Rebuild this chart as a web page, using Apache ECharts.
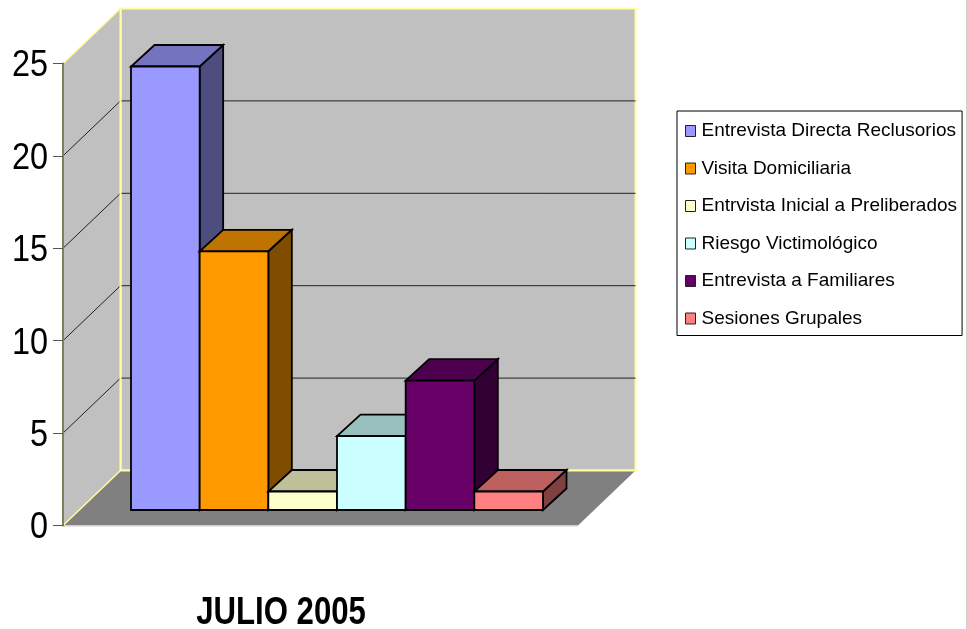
<!DOCTYPE html>
<html>
<head>
<meta charset="utf-8">
<style>html,body{margin:0;padding:0;background:#fff}#c{width:967px;height:629px}</style>
<script src="https://cdn.jsdelivr.net/npm/echarts@6/dist/echarts.min.js"></script>
</head>
<body>
<div id="c"></div>
<script>
const categories = ["JULIO 2005"];
const seriesNames = ["Entrevista Directa Reclusorios","Visita Domiciliaria","Entrvista Inicial a Preliberados","Riesgo Victimológico","Entrevista a Familiares","Sesiones Grupales"];
const seriesValues = [24, 14, 1, 4, 7, 1];
const seriesFaces = ["#9999FF","#FF9900","#FFFFCC","#CCFFFF","#660066","#FF8080"];
const seriesTops  = ["#7373BF","#BF7300","#BFBF99","#99BFBF","#4D004D","#BF6060"];
const seriesSides = ["#4D4D80","#804D00","#808066","#668080","#330033","#804040"];
const yTicks = [0, 5, 10, 15, 20, 25];

const WALL_DX = 57.5, WALL_DY = -55;
const BAR_DX = 16.5, BAR_DY = -15.5;
const DEPTH_DX = 23.5, DEPTH_DY = -21.5;
const GAP_UNITS = 1.5;

function poly(points, fill, stroke, lw) {
  return {type:'polygon', shape:{points},
    style:{fill: fill, stroke: stroke || null, lineWidth: lw || 0, lineJoin:'miter'}};
}
function line(a, b, stroke, lw) {
  return {type:'line', shape:{x1:a[0],y1:a[1],x2:b[0],y2:b[1]}, style:{stroke, lineWidth:lw, fill:null}};
}

function renderWalls(params, api) {
  const cs = params.coordSys;
  const L = cs.x, R = cs.x + cs.width;
  const y0 = api.coord([0, 0])[1], yT = api.coord([0, 25])[1];
  const kids = [];
  const yellow = '#FFFF99';
  kids.push({type:'rect', shape:{x:L+WALL_DX, y:yT+WALL_DY, width:R-L, height:y0-yT},
    style:{fill:'#C0C0C0', stroke:yellow, lineWidth:2}});
  kids.push(poly([[L,yT],[L+WALL_DX,yT+WALL_DY],[L+WALL_DX,y0+WALL_DY],[L,y0]], '#C0C0C0'));
  yTicks.forEach(t => {
    const y = api.coord([0, t])[1];
    // tick label, drawn at the axis position and narrowed like the original
    kids.push({type:'text', x:L-15, y:y+3, scaleX:0.9, z2:5,
      style:{text:String(t), fill:'#000', align:'right', verticalAlign:'middle',
             font:'36px "Liberation Sans", Arial'}});
    if (t === 0 || t === 25) return;
    kids.push(line([L,y],[L+WALL_DX,y+WALL_DY],'#222',1));
    kids.push(line([L+WALL_DX,y+WALL_DY],[R+WALL_DX,y+WALL_DY],'#222',1));
  });
  kids.push(poly([[L,y0],[L+WALL_DX,y0+WALL_DY],[R+WALL_DX,y0+WALL_DY],[R,y0]], '#808080'));
  kids.push(line([L+WALL_DX,y0+WALL_DY],[R+WALL_DX,y0+WALL_DY],yellow,2));
  kids.push(line([R,y0+0.7],[L,y0+0.7],'#E4E4E4',1.5));
  kids.push(line([L,y0],[L+WALL_DX,y0+WALL_DY],yellow,1.5));
  kids.push(line([L,yT],[L+WALL_DX,yT+WALL_DY],yellow,1.5));
  kids.push(line([L+WALL_DX,yT+WALL_DY],[L+WALL_DX,y0+WALL_DY],yellow,2));
  return {type:'group', children:kids};
}

function makeBar(i) {
  return function(params, api) {
    const v = api.value(1);
    const band = api.size([1, 0])[0];
    const w = band / (seriesValues.length + GAP_UNITS);
    const base = api.coord([0, 0]);
    const top = api.coord([0, v]);
    const xL = base[0] - w * seriesValues.length / 2 + i * w + BAR_DX;
    const xR = xL + w;
    const yB = base[1] + BAR_DY, yT = top[1] + BAR_DY;
    const dx = DEPTH_DX, dy = DEPTH_DY;
    const s = '#000', lw = 1.8;
    return {type:'group', children:[
      poly([[xR,yB],[xR+dx,yB+dy],[xR+dx,yT+dy],[xR,yT]], seriesSides[i], s, lw),
      poly([[xL,yT],[xR,yT],[xR+dx,yT+dy],[xL+dx,yT+dy]], seriesTops[i], s, lw),
      poly([[xL,yT],[xR,yT],[xR,yB],[xL,yB]], seriesFaces[i], s, lw)
    ]};
  };
}

const series = [{
  type:'custom', name:'__walls', silent:true, clip:false, z:1,
  data:[[0,0]], encode:{x:0,y:1}, renderItem:renderWalls, tooltip:{show:false}
}].concat(seriesNames.map((n, i) => ({
  type:'custom', name:n, clip:false, z:3 + i,
  itemStyle:{color:seriesFaces[i], borderColor:'#222', borderWidth:1},
  data:[[0, seriesValues[i]]], encode:{x:0,y:1}, renderItem:makeBar(i)
})));

const chart = echarts.init(document.getElementById('c'), null, {renderer:'canvas'});
chart.setOption({
  animation:false,
  backgroundColor:'#fff',
  graphic:[
    {type:'text', x:281, y:614, scaleX:0.82, z:10,
     style:{text:categories[0], fill:'#000', align:'center', verticalAlign:'middle',
            font:'bold 38px "Liberation Sans", Arial'}},
    {type:'rect', shape:{x:966, y:0, width:1, height:629}, style:{fill:'#CFCFCF'}, z:10, silent:true}
  ],
  legend:{
    data:seriesNames, orient:'vertical', left:677, top:111,
    padding:[9,5,6,8], itemGap:15.5, itemWidth:10, itemHeight:11,
    borderColor:'#000', borderWidth:1, backgroundColor:'#fff',
    icon:'rect',
    itemStyle:{borderColor:'#222', borderWidth:1},
    textStyle:{fontFamily:'"Liberation Sans",Arial', fontSize:19, color:'#000', padding:[0,0,0,1], lineHeight:22}
  },
  grid:{left:63, right:967-578, top:63.5, bottom:629-525.5, containLabel:false},
  xAxis:{
    type:'category', data:categories,
    axisLine:{show:false}, axisTick:{show:false}, axisLabel:{show:false}, splitLine:{show:false}
  },
  yAxis:{
    type:'value', min:0, max:25, interval:5, z:6,
    axisLine:{show:true, lineStyle:{color:'#80805A', width:2}},
    axisTick:{show:true, length:10, lineStyle:{color:'#555', width:1}},
    axisLabel:{show:false},
    splitLine:{show:false}
  },
  series
});
</script>
</body>
</html>
